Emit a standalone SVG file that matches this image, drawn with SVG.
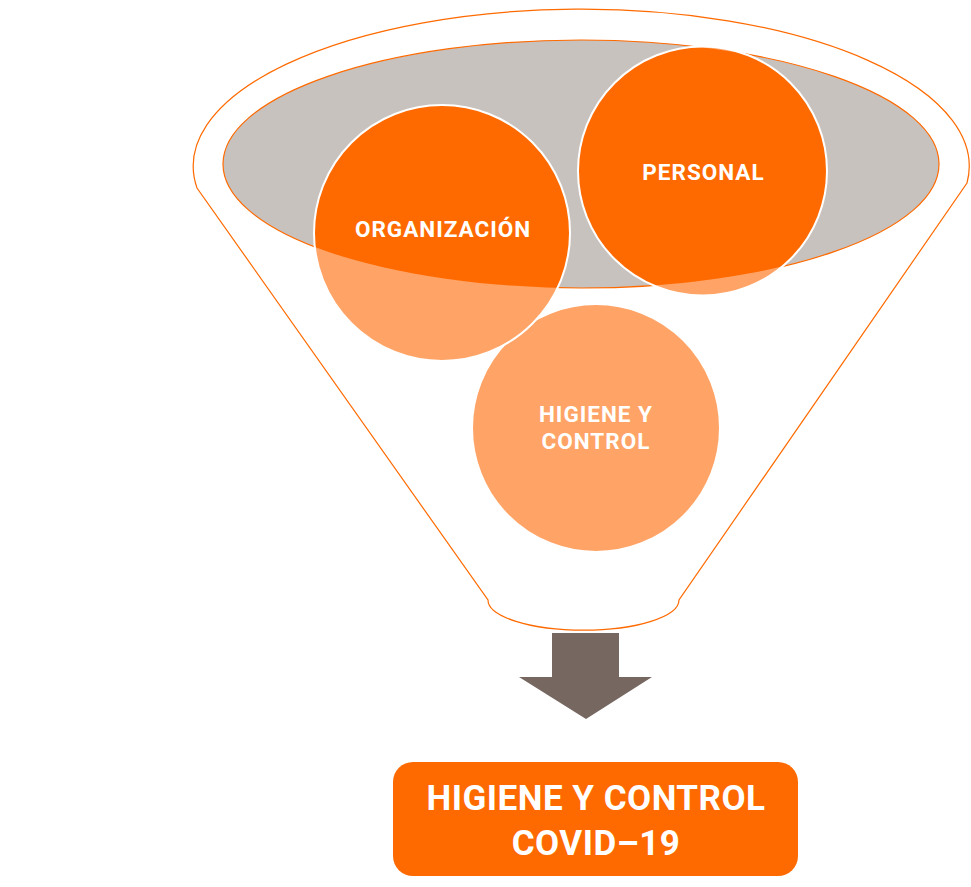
<svg xmlns="http://www.w3.org/2000/svg" width="971" height="887" viewBox="0 0 971 887">
  <style>
    .lbl { font-family: Roboto, "Liberation Sans", Arial, sans-serif; font-weight: 700; fill: #ffffff; text-anchor: middle; }
    .small { font-size: 22.5px; letter-spacing: 1px; }
    .big { font-size: 35px; letter-spacing: 0.5px; }
    .light { fill: #FFA466; }
    .dark { fill: #FF6A00; }
    .ring { fill: none; stroke: #ffffff; stroke-width: 2; }
  </style>
  <defs>
    <clipPath id="topClip">
      <ellipse cx="581" cy="164" rx="358" ry="124"/>
    </clipPath>
  </defs>

  <g id="funnel">
    <path d="M197,188 A388,157 0 1 1 967,183 L679,600 A95,30 0 0 1 488,600 Z" fill="#ffffff" stroke="#FF6A00" stroke-width="1.2"/>
    <ellipse cx="581" cy="164" rx="358" ry="124" fill="#C8C2BF" stroke="#FF6A00" stroke-width="1.2"/>
  </g>

  <g id="node-higiene">
    <circle cx="596" cy="428" r="124" class="light"/>
    <circle cx="596" cy="428" r="124" class="ring"/>
    <text class="lbl small" x="596" y="422">HIGIENE Y</text>
    <text class="lbl small" x="596" y="448.5">CONTROL</text>
  </g>

  <g id="node-organizacion">
    <circle cx="442" cy="233" r="128" class="light"/>
    <circle cx="442" cy="233" r="128" class="dark" clip-path="url(#topClip)"/>
    <circle cx="442" cy="233" r="128" class="ring"/>
    <text class="lbl small" x="443" y="237">ORGANIZACIÓN</text>
  </g>

  <g id="node-personal">
    <circle cx="702.5" cy="171" r="124.5" class="light"/>
    <circle cx="702.5" cy="171" r="124.5" class="dark" clip-path="url(#topClip)"/>
    <circle cx="702.5" cy="171" r="124.5" class="ring"/>
    <text class="lbl small" x="703.5" y="180">PERSONAL</text>
  </g>

  <g id="connectors">
    <polygon points="552,633 619,633 619,677 652,677 586,719 519,677 552,677" fill="#766761"/>
  </g>

  <g id="node-result">
    <rect x="393" y="762" width="405" height="114" rx="20" ry="20" fill="#FF6A00"/>
    <text class="lbl big" x="596" y="810">HIGIENE Y CONTROL</text>
    <text class="lbl big" x="596" y="855">COVID–19</text>
  </g>
</svg>
